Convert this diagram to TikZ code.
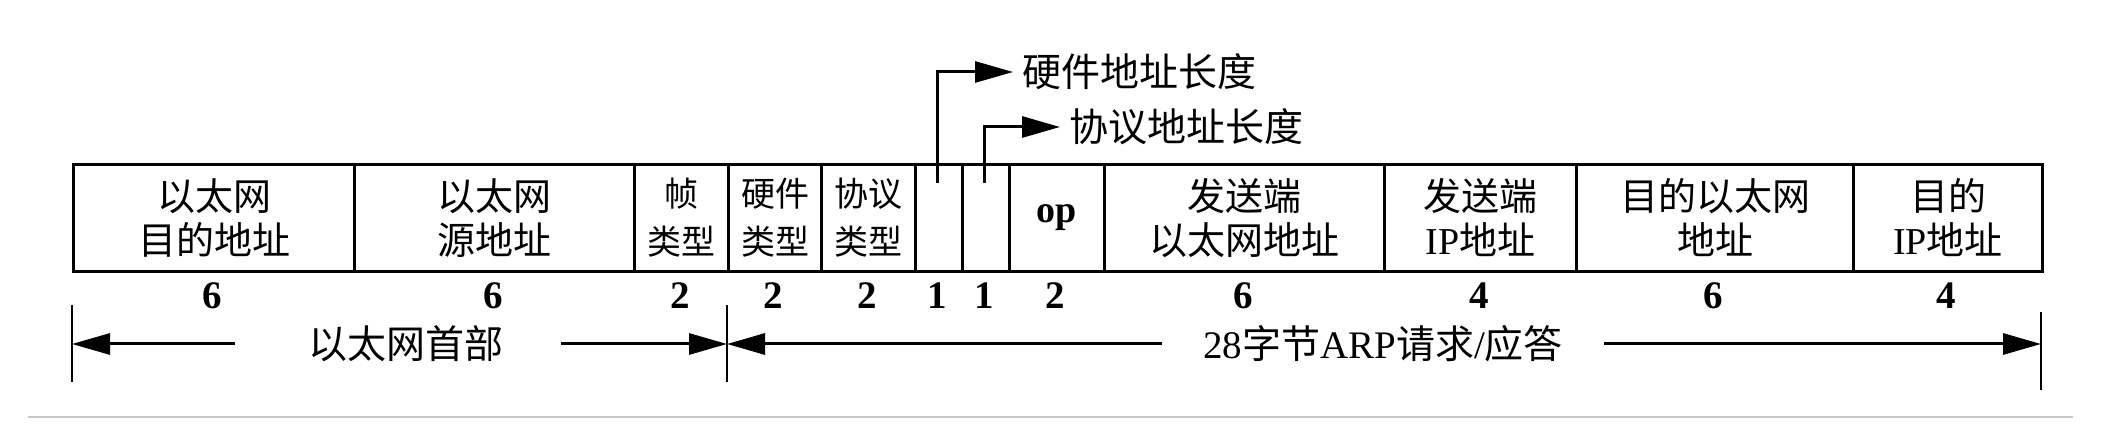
\documentclass[tikz,border=0pt]{standalone}
\usepackage{fontspec}
\setmainfont{Liberation Serif}
\newfontfamily\cjk{Noto Sans CJK SC}
\newcommand{\zh}[1]{{\cjk #1}}
\usetikzlibrary{arrows.meta}
\begin{document}
\begin{tikzpicture}[x=0.5pt,y=-0.5pt,
  line width=1.5pt,
  fld/.style={draw, line width=1.5pt, minimum height=53.5pt, inner sep=0pt,
    anchor=north west, align=center, font=\fontsize{19}{22}\selectfont\cjk},
  fldsmall/.style={fld, font=\fontsize{17}{24}\selectfont\cjk},
  num/.style={font=\fontsize{19.5}{22}\selectfont\bfseries, inner sep=0pt},
  dimlbl/.style={font=\fontsize{19.5}{22}\selectfont, inner sep=0pt},
  toplbl/.style={font=\fontsize{19.5}{22}\selectfont\cjk, anchor=west, inner sep=0pt, inner xsep=4pt},
  arr/.style={-{Triangle[length=19pt,width=10.5pt]}, line width=1.5pt},
  tick/.style={line width=1.3pt}
]
\useasboundingbox (0,0) rectangle (2104,448);

% fields
\node[fld, minimum width=140.5pt] (f1) at (72,163) {以太网\\目的地址};
\node[fld, minimum width=140pt] (f2) at (353,163) {以太网\\源地址};
\node[fldsmall, minimum width=47pt] (f3) at (633,163) {帧\\类型};
\node[fldsmall, minimum width=46.5pt] (f4) at (727,163) {硬件\\类型};
\node[fldsmall, minimum width=47pt] (f5) at (820,163) {协议\\类型};
\node[fld, minimum width=23.5pt] (f6) at (914,163) {};
\node[fld, minimum width=23.5pt] (f7) at (961,163) {};
\node[fld, minimum width=47.5pt, font=\fontsize{19}{22}\selectfont\bfseries] (f8) at (1008,163) {op};
\node[fld, minimum width=140pt] (f9) at (1103,163) {发送端\\以太网地址};
\node[fld, minimum width=96pt] (f10) at (1383,163) {发送端\\\textrm{IP}地址};
\node[fld, minimum width=138.5pt] (f11) at (1575,163) {目的以太网\\地址};
\node[fld, minimum width=94.5pt] (f12) at (1852,163) {目的\\\textrm{IP}地址};

% byte counts
\node[num] (n1) at (212.5,296) {6};
\node[num] (n2) at (493,296) {6};
\node[num] (n3) at (680,296) {2};
\node[num] (n4) at (773.5,296) {2};
\node[num] (n5) at (867,296) {2};
\node[num] (n6) at (937.5,296) {1};
\node[num] (n7) at (984.5,296) {1};
\node[num] (n8) at (1055.5,296) {2};
\node[num] (n9) at (1243,296) {6};
\node[num] (n10) at (1479,296) {4};
\node[num] (n11) at (1713.5,296) {6};
\node[num] (n12) at (1946.5,296) {4};

% length labels above
\coordinate (hwbase) at (937.5,183);
\coordinate (prbase) at (984.5,183);
\node[toplbl] (hwlbl) at (1013,72) {硬件地址长度};
\node[toplbl] (prlbl) at (1060,127) {协议地址长度};
\draw[arr] (hwbase) |- (hwlbl.west);
\draw[arr] (prbase) |- (prlbl.west);

% dimension ticks
\coordinate (tLa) at (72,305);  \coordinate (tLb) at (72,382);
\coordinate (tMa) at (727,305); \coordinate (tMb) at (727,382);
\coordinate (tRa) at (2041,312); \coordinate (tRb) at (2041,390);
\draw[tick] (tLa) -- (tLb);
\draw[tick] (tMa) -- (tMb);
\draw[tick] (tRa) -- (tRb);

\coordinate (dl) at (72,344);
\coordinate (dm) at (727,344);
\coordinate (dr) at (2041,344);
\node[dimlbl] (eh) at (406,344) {\zh{以太网首部}};
\node[dimlbl] (arp) at (1383,344) {28\zh{字节}ARP\zh{请求}/\zh{应答}};
\draw[arr, shorten <=36pt] (eh.west) -- (dl);
\draw[arr, shorten <=28pt] (eh.east) -- (dm);
\draw[arr, shorten <=20pt] (arp.west) -- (dm);
\draw[arr, shorten <=20pt] (arp.east) -- (dr);

% bottom separator
\coordinate (sepL) at (28,417);
\coordinate (sepR) at (2073,417);
\draw[line width=1.3pt, black!22] (sepL) -- (sepR);
\end{tikzpicture}
\end{document}
